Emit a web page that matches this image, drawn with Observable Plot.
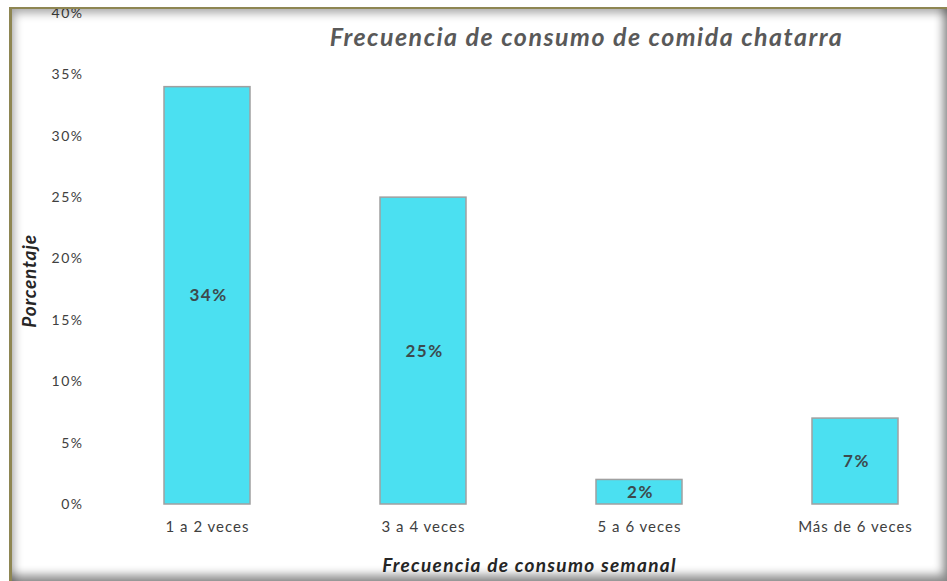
<!DOCTYPE html>
<html>
<head>
<meta charset="utf-8">
<script src="https://cdn.jsdelivr.net/npm/d3@7"></script>
<script src="https://cdn.jsdelivr.net/npm/@observablehq/plot@0.6"></script>
<style>
  html, body { margin: 0; padding: 0; background: #fff; overflow: hidden; }
  #wrap { position: relative; width: 947px; height: 581px; font-family: Lato, "Open Sans", sans-serif; }
  #frame {
    position: absolute; left: 9px; top: 7px; width: 938px; height: 574px; box-sizing: border-box;
    border-top: 2px solid #8e8652; border-left: 3px solid #8e8652;
    box-shadow: inset 4px 6px 10px -2px rgba(0,0,0,0.35), inset -6px -8px 10px -2px rgba(0,0,0,0.45);
    pointer-events: none; z-index: 2;
  }
  #title {
    position: absolute; left: 0; width: 947px; padding-left: 226px; box-sizing: border-box; top: 21px;
    text-align: center; font-style: italic; font-weight: bold; font-size: 25px; letter-spacing: 1.5px; color: #595959;
  }
  svg { position: absolute; left: 0; top: 0; }
  svg [aria-label="x-axis tick label"] text { letter-spacing: 1px; }
  svg [aria-label="y-axis tick label"] text { letter-spacing: 1.5px; }
</style>
</head>
<body>
<div id="wrap">
  <div id="frame"></div>
  <div id="title">Frecuencia de consumo de comida chatarra</div>
</div>
<script>
const categories = ["1 a 2 veces", "3 a 4 veces", "5 a 6 veces", "Más de 6 veces"];
const values = [0.34, 0.25, 0.02, 0.07];
const labels = ["34%", "25%", "2%", "7%"];
const yTicks = [0, 0.05, 0.10, 0.15, 0.20, 0.25, 0.30, 0.35, 0.40];
const yTitle = "Porcentaje";
const xTitle = "Frecuencia de consumo semanal";

const data = categories.map((c, i) => ({cat: c, v: values[i], lab: labels[i]}));

const chart = Plot.plot({
  width: 947,
  height: 581,
  marginTop: 13,
  marginBottom: 77,
  marginLeft: 99,
  marginRight: 0,
  style: {fontFamily: "Lato, 'Open Sans', sans-serif", background: "transparent", overflow: "visible"},
  x: {domain: categories, range: [99, 963], paddingInner: 0.6, paddingOuter: 0.3, align: 0.5, label: null},
  y: {domain: [0, 0.4], label: null},
  marks: [
    Plot.ruleY([0], {stroke: "#d6d6d6", x1: 97, x2: 947}),
    Plot.barY(data, {x: "cat", y: "v", fill: "#4be0f1", stroke: "#a0a0a0", strokeWidth: 1.5}),
    Plot.text(data, {x: "cat", y: d => d.v / 2, text: "lab", fill: "#3d4a4d", fontWeight: "bold", fontSize: 17, dx: 1}),
    Plot.axisY({ticks: yTicks, tickFormat: d3.format(".0%"), tickSize: 0, tickPadding: 16, fontSize: 14, fill: "#404040", label: null}),
    Plot.axisX({tickSize: 0, tickPadding: 17, fontSize: 15, fill: "#404040", label: null}),
    Plot.text([yTitle], {frameAnchor: "left", textAnchor: "middle", lineAnchor: "middle", rotate: -90, dx: -70, dy: 22, fontSize: 19, fontWeight: "bold", fontStyle: "italic", fill: "#262626"}),
    Plot.text([xTitle], {frameAnchor: "bottom", textAnchor: "middle", lineAnchor: "middle", dx: 6, dy: 61, fontSize: 19, fontWeight: "bold", fontStyle: "italic", fill: "#262626"})
  ]
});
// letter spacing for the text marks (bar values, y title, x title), in mark order
const textGroups = chart.querySelectorAll('g[aria-label="text"]');
const spacings = ["1.5px", "0.8px", "1.3px"];
textGroups.forEach((g, i) => { if (spacings[i]) g.style.letterSpacing = spacings[i]; });
document.getElementById("wrap").appendChild(chart);
</script>
</body>
</html>
